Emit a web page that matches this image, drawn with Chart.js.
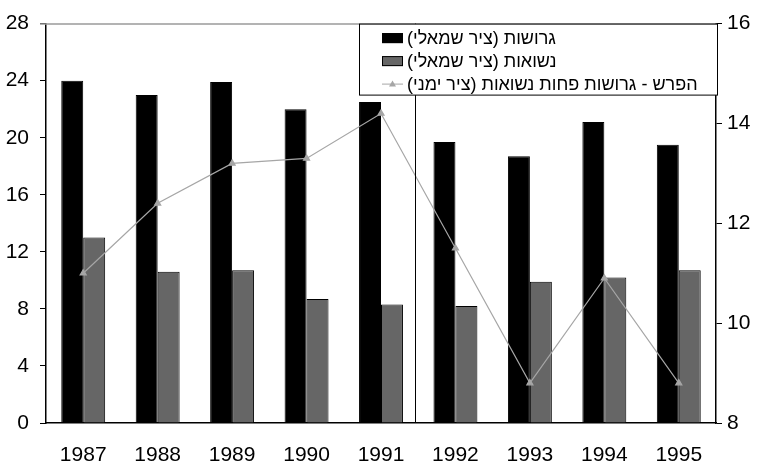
<!DOCTYPE html>
<html>
<head>
<meta charset="utf-8">
<script src="https://cdn.jsdelivr.net/npm/chart.js@4.4.1/dist/chart.umd.min.js"></script>
<style>
    html, body { margin: 0; padding: 0; background: #fff; }
    #wrap { width: 759px; height: 468px; position: relative; }
</style>
</head>
<body>
<div id="wrap"><canvas id="chart"></canvas></div>
<script>
// data
const years = ['1987', '1988', '1989', '1990', '1991', '1992', '1993', '1994', '1995'];
const divorced = [24, 23, 23.9, 22, 22.5, 19.7, 18.7, 21.1, 19.5];
const married = [13, 10.6, 10.7, 8.7, 8.3, 8.2, 9.9, 10.2, 10.7];
const difference = [11, 12.4, 13.2, 13.3, 14.2, 11.5, 8.8, 10.9, 8.8];
const leftTicks = [0, 28, 4];   // min, max, step
const rightTicks = [8, 16, 2];
const dividerAt = 4.45;          // vertical line between 1991 and 1992

const labels = {
    divorced: 'גרושות (ציר שמאלי)',
    married: 'נשואות (ציר שמאלי)',
    difference: 'הפרש - גרושות פחות נשואות (ציר ימני)'
};

const fontFamily = '"Liberation Sans", Arial, sans-serif';

const boxLegend = {
    id: 'boxLegend',
    afterDatasetsDraw(chart) {
        const ctx = chart.ctx;
        const area = chart.chartArea;
        const x = chart.scales.x;

        ctx.save();
        // top border of plot
        ctx.strokeStyle = '#9a9a9a';
        ctx.lineWidth = 1.5;
        ctx.beginPath();
        ctx.moveTo(area.left - 6, area.top + 0.5);
        ctx.lineTo(area.right, area.top + 0.5);
        ctx.stroke();

        // divider line
        const dx = Math.round(x.getPixelForValue(dividerAt)) + 0.5;
        ctx.strokeStyle = '#000';
        ctx.lineWidth = 1;
        ctx.beginPath();
        ctx.moveTo(dx, area.top);
        ctx.lineTo(dx, area.bottom);
        ctx.stroke();

        // legend box
        const bx = 359.5, by = area.top + 0.5, bw = 358, bh = 71;
        ctx.fillStyle = '#fff';
        ctx.fillRect(bx, by, bw, bh);
        ctx.strokeStyle = '#000';
        ctx.strokeRect(bx, by, bw, bh);

        const rows = [by + 14, by + 37, by + 60];
        const swX = 382, swW = 21;
        const textLeft = 407;
        ctx.font = '18px ' + fontFamily;
        ctx.textBaseline = 'middle';
        ctx.direction = 'rtl';
        ctx.textAlign = 'left';

        chart.data.datasets.forEach((ds, i) => {
            const y = rows[i];
            ctx.fillStyle = '#000';
            ctx.fillText(ds.label, textLeft, y + 1);
            if (ds.type === 'line') {
                ctx.strokeStyle = ds.borderColor;
                ctx.lineWidth = 1;
                ctx.beginPath();
                ctx.moveTo(swX, y);
                ctx.lineTo(swX + swW, y);
                ctx.stroke();
                ctx.fillStyle = ds.pointBackgroundColor;
                ctx.beginPath();
                ctx.moveTo(swX + swW / 2, y - 3.5);
                ctx.lineTo(swX + swW / 2 + 3.5, y + 2.5);
                ctx.lineTo(swX + swW / 2 - 3.5, y + 2.5);
                ctx.closePath();
                ctx.fill();
            } else {
                ctx.fillStyle = ds.backgroundColor;
                ctx.fillRect(swX, y - 5, swW, 10);
                ctx.strokeStyle = '#000';
                ctx.lineWidth = 1;
                ctx.strokeRect(swX + 0.5, y - 4.5, swW - 1, 9);
            }
        });
        ctx.restore();
    }
};

const ctx = document.getElementById('chart').getContext('2d');

new Chart(ctx, {
    type: 'bar',
    data: {
        labels: years,
        datasets: [
            {
                label: labels.divorced,
                data: divorced,
                backgroundColor: '#000000',
                borderColor: '#000000',
                borderWidth: 1,
                yAxisID: 'y',
                order: 1
            },
            {
                label: labels.married,
                data: married,
                backgroundColor: '#666666',
                borderColor: '#000000',
                borderWidth: 1,
                yAxisID: 'y',
                order: 1
            },
            {
                type: 'line',
                label: labels.difference,
                data: difference,
                borderColor: '#a6a6a6',
                borderWidth: 1.2,
                pointStyle: 'triangle',
                pointRadius: 3.5,
                pointBackgroundColor: '#a6a6a6',
                pointBorderColor: '#a6a6a6',
                tension: 0,
                yAxisID: 'y2',
                order: 0
            }
        ]
    },
    options: {
        responsive: true,
        maintainAspectRatio: false,
        animation: false,
        layout: { padding: { top: 19, left: 0, right: 0, bottom: 0 } },
        datasets: {
            bar: { categoryPercentage: 0.59, barPercentage: 1.0 }
        },
        plugins: {
            legend: { display: false },
            tooltip: { enabled: false }
        },
        scales: {
            x: {
                grid: { display: false },
                border: { display: true, color: '#000', width: 1.5 },
                ticks: {
                    color: '#000',
                    padding: 12,
                    maxRotation: 0,
                    font: { family: fontFamily, size: 21 }
                },
                afterFit(scale) { scale.height = 45; }
            },
            y: {
                position: 'left',
                min: leftTicks[0],
                max: leftTicks[1],
                grid: { drawOnChartArea: false, color: '#000', tickLength: 6 },
                border: { display: true, color: '#000', width: 1.5 },
                ticks: {
                    stepSize: leftTicks[2],
                    color: '#000',
                    padding: 11,
                    font: { family: fontFamily, size: 21 }
                },
                afterFit(scale) { scale.width = 46; }
            },
            y2: {
                position: 'right',
                min: rightTicks[0],
                max: rightTicks[1],
                grid: { drawOnChartArea: false, color: '#000', tickLength: 6 },
                border: { display: true, color: '#000', width: 1.5 },
                ticks: {
                    stepSize: rightTicks[2],
                    color: '#000',
                    padding: 5,
                    font: { family: fontFamily, size: 21 }
                },
                afterFit(scale) { scale.width = 43; }
            }
        }
    },
    plugins: [boxLegend]
});
</script>
</body>
</html>
